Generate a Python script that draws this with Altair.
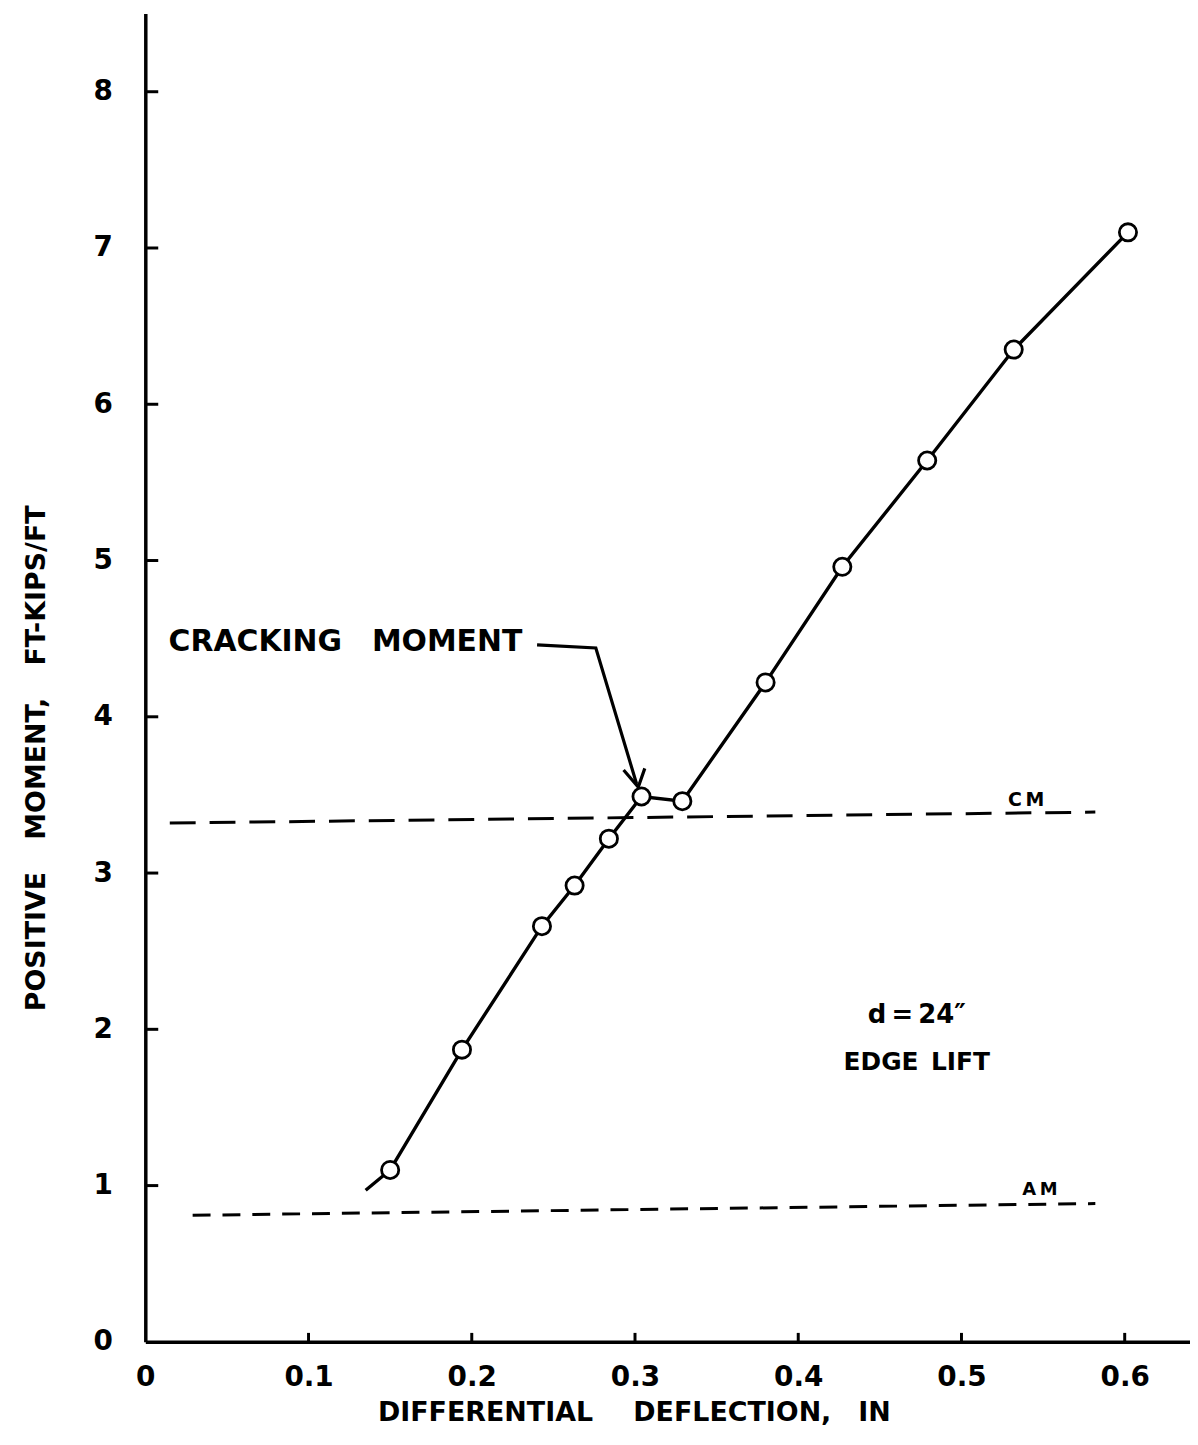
import altair as alt
import pandas as pd

# measured data points (differential deflection, in ; positive moment, ft-kips/ft)
defl = [0.150, 0.194, 0.243, 0.263, 0.284, 0.304, 0.329, 0.380, 0.427, 0.479, 0.532, 0.602]
moment = [1.10, 1.87, 2.66, 2.92, 3.22, 3.49, 3.46, 4.22, 4.96, 5.64, 6.35, 7.10]
# the drawn curve starts a little below the first point
curve_start_x = [0.135]
curve_start_y = [0.97]

# dashed reference lines
cm_x = [0.015, 0.582]
cm_y = [3.32, 3.39]
am_x = [0.029, 0.582]
am_y = [0.81, 0.885]

# cracking-moment leader and arrow head
leader_x = [0.240, 0.276, 0.301]
leader_y = [4.46, 4.44, 3.57]
head_x = [0.293, 0.302, 0.306]
head_y = [3.66, 3.55, 3.67]

x_ticks = [0.0, 0.1, 0.2, 0.3, 0.4, 0.5, 0.6]
y_ticks = [0, 1, 2, 3, 4, 5, 6, 7, 8]

labels_text = ["CRACKING\u2002\u2002MOMENT", "C\u2009M", "A\u2009M",
               "d\u2009=\u200924\u2033", "EDGE\u2002LIFT"]
labels_x = [0.1226, 0.5396, 0.548, 0.4726, 0.4726]
labels_y = [4.48, 3.47, 0.97, 2.09, 1.79]
labels_size = [30, 19, 18, 26, 25]

W, H = 1050, 1335
FONT = "DejaVu Sans"

xs = alt.Scale(domain=[0, 0.64], nice=False, zero=False)
ys = alt.Scale(domain=[0, 8.5], nice=False, zero=False)

x_axis = alt.Axis(
    values=x_ticks, ticks=False, grid=False,
    labelExpr="datum.value == 0 ? '0' : format(datum.value, '.1f')",
    labelFont=FONT, labelFontWeight="bold", labelFontSize=28, labelColor="black",
    labelPadding=22, labelFlush=False,
    domainColor="black", domainWidth=3.5,
    title="DIFFERENTIAL\u2003\u2002DEFLECTION,\u2003IN", titleFont=FONT, titleFontWeight="bold",
    titleFontSize=27, titleColor="black", titleX=491, titleY=71,
    titleAnchor="middle", titleAlign="center", titleBaseline="middle",
)
y_axis = alt.Axis(
    values=y_ticks, ticks=False, grid=False,
    labelFont=FONT, labelFontWeight="bold", labelFontSize=28, labelColor="black",
    labelPadding=33, labelFlush=False,
    domainColor="black", domainWidth=3.5,
    title="POSITIVE\u2003\u2009MOMENT,\u2003\u2009FT-KIPS/FT", titleFont=FONT, titleFontWeight="bold",
    titleFontSize=27, titleColor="black", titleX=-109, titleY=748,
    titleAngle=270, titleAlign="center", titleBaseline="middle",
)

def X(field="x"):
    return alt.X(f"{field}:Q", scale=xs, axis=x_axis)

def Y(field="y"):
    return alt.Y(f"{field}:Q", scale=ys, axis=y_axis)

pts = pd.DataFrame({"x": defl, "y": moment})
curve = pd.DataFrame({"x": curve_start_x + defl, "y": curve_start_y + moment})
curve["o"] = range(len(curve))

curve_layer = alt.Chart(curve).mark_line(color="black", strokeWidth=3.4).encode(
    x=X(), y=Y(), order="o:Q")
pts_layer = alt.Chart(pts).mark_point(
    shape="circle", size=300, filled=True, fill="white", stroke="black",
    strokeWidth=2.8, opacity=1).encode(x=X(), y=Y())

cm = pd.DataFrame({"x": cm_x, "y": cm_y})
am = pd.DataFrame({"x": am_x, "y": am_y})
cm_layer = alt.Chart(cm).mark_line(color="black", strokeWidth=3, strokeDash=[26, 14]).encode(x=X(), y=Y())
am_layer = alt.Chart(am).mark_line(color="black", strokeWidth=3, strokeDash=[18, 12]).encode(x=X(), y=Y())

leader = pd.DataFrame({"x": leader_x, "y": leader_y, "o": range(len(leader_x))})
head = pd.DataFrame({"x": head_x, "y": head_y, "o": range(len(head_x))})
leader_layer = alt.Chart(leader).mark_line(color="black", strokeWidth=3.2).encode(x=X(), y=Y(), order="o:Q")
head_layer = alt.Chart(head).mark_line(color="black", strokeWidth=3.2).encode(x=X(), y=Y(), order="o:Q")

lab = pd.DataFrame({"x": labels_x, "y": labels_y, "t": labels_text, "s": labels_size})
text_layer = alt.Chart(lab).mark_text(
    font=FONT, fontWeight="bold", color="black", align="center", baseline="middle").encode(
    x=X(), y=Y(), text="t:N",
    size=alt.Size("s:Q", scale=None, legend=None))

# inward tick marks
xt = pd.DataFrame({"x": x_ticks[1:]})
yt = pd.DataFrame({"y": y_ticks[1:]})
xtick_layer = alt.Chart(xt).mark_rule(color="black", strokeWidth=3).encode(
    x=X(), y=alt.value(H), y2=alt.value(H - 9))
ytick_layer = alt.Chart(yt).mark_rule(color="black", strokeWidth=3).encode(
    y=Y(), x=alt.value(0), x2=alt.value(13))

chart = alt.layer(
    cm_layer, am_layer, curve_layer, pts_layer, leader_layer, head_layer,
    text_layer, xtick_layer, ytick_layer,
).properties(
    width=W, height=H,
    autosize=alt.AutoSizeParams(type="none"),
    padding={"left": 138, "top": 2, "right": 0, "bottom": 90},
    background="white",
).configure_view(stroke=None)

chart.save("out.html", embed_options={"renderer": "svg", "actions": False})
